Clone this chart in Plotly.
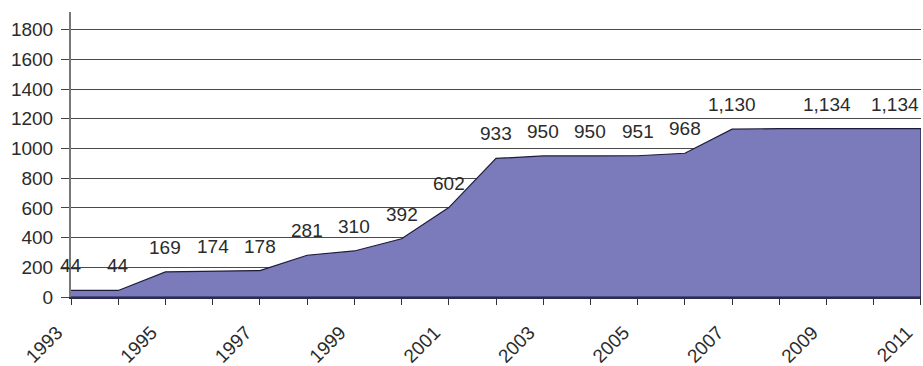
import plotly.graph_objects as go

# Cumulative totals per year
years = list(range(1993, 2012))
totals = [44, 44, 169, 174, 178, 281, 310, 392, 602, 933,
          950, 950, 951, 968, 1130, 1134, 1134, 1134, 1134]
# Years that carry a value label above the area
label_years = [1993, 1994, 1995, 1996, 1997, 1998, 1999, 2000, 2001, 2002,
               2003, 2004, 2005, 2006, 2007, 2009, 2011]
# Tick labels on the category axis (every other year)
tick_years = list(range(1993, 2012, 2))
y_ticks = [0, 200, 400, 600, 800, 1000, 1200, 1400, 1600, 1800]

FONT = "Arial, Liberation Sans, sans-serif"
TEXT = "#2b2b2b"

fig = go.Figure()

# Closed polygon so the border runs along the top, right edge and base
fig.add_trace(go.Scatter(
    x=years + [years[-1], years[0]],
    y=totals + [0, 0],
    mode="lines",
    fill="toself",
    fillcolor="#7b7aba",
    line=dict(color="#1c1c3a", width=1.2),
    hoverinfo="skip",
    showlegend=False,
))

for yr, val in zip(years, totals):
    if yr not in label_years:
        continue
    last = yr == years[-1]
    fig.add_annotation(
        x=yr, y=val, text=f"{val:,}",
        showarrow=False,
        xanchor="right" if last else "center",
        yanchor="bottom",
        yshift=12,
        font=dict(family=FONT, size=19, color=TEXT),
    )

fig.update_layout(
    width=923, height=366,
    margin=dict(l=71, r=2, t=12, b=69, autoexpand=False),
    paper_bgcolor="white",
    plot_bgcolor="white",
    xaxis=dict(
        range=[years[0] - 0.001, years[-1] + 0.001],
        tickmode="array",
        tickvals=years,
        ticktext=[str(y) if y in tick_years else "" for y in years],
        tickangle=-45,
        ticks="outside", ticklen=6, tickcolor="#333",
        ticklabelstandoff=9,
        ticklabelshift=-14,
        automargin=False,
        showline=True, linecolor="#2a2a55", linewidth=2,
        showgrid=False, zeroline=False,
        tickfont=dict(family=FONT, size=19, color=TEXT),
    ),
    yaxis=dict(
        range=[0, 1919],
        tickmode="array",
        tickvals=y_ticks,
        ticks="outside", ticklen=8, tickcolor="#444",
        ticklabelstandoff=4,
        automargin=False,
        showline=True, linecolor="#777", linewidth=2,
        showgrid=True, gridcolor="#4a4a4a", gridwidth=1.2,
        zeroline=False,
        tickfont=dict(family=FONT, size=19, color=TEXT),
    ),
)

fig.write_html("out.html")
